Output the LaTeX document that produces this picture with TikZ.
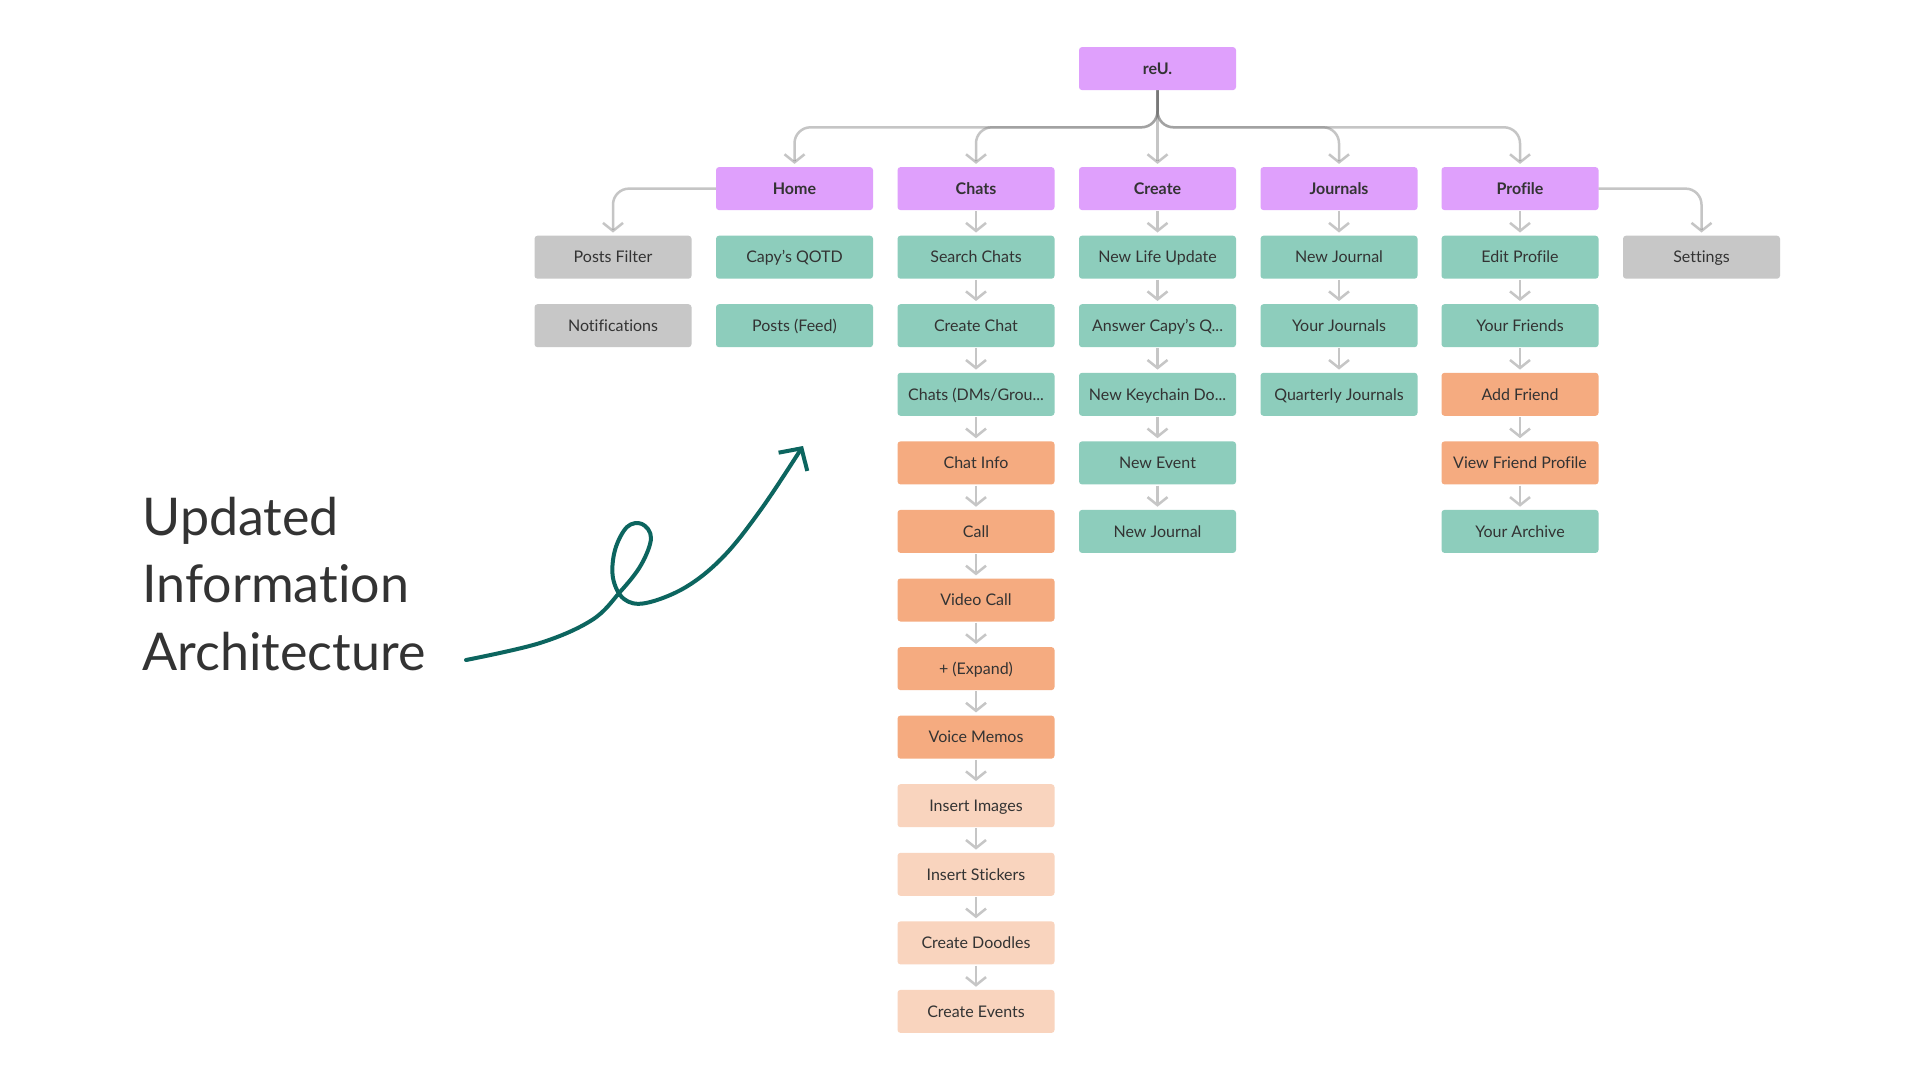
\documentclass[tikz,border=0pt]{standalone}
\usepackage{fontspec}
\setmainfont{Lato}[Ligatures=NoCommon]
\usepackage{tikz}
\usetikzlibrary{arrows.meta}

\definecolor{iaPurple}{HTML}{DFA0FC}
\definecolor{iaMint}{HTML}{8DCDBC}
\definecolor{iaOrange}{HTML}{F5AB80}
\definecolor{iaPeach}{HTML}{F9D4BE}
\definecolor{iaGrey}{HTML}{C7C7C7}
\definecolor{iaArrow}{HTML}{C6C6C6}
\definecolor{iaLine}{HTML}{6E6E6E}
\definecolor{iaText}{HTML}{333333}
\definecolor{iaGreen}{HTML}{0C655F}

\begin{document}
\begin{tikzpicture}[x=1pt, y=-1pt,
    box/.style={rounded corners=3pt, minimum width=157pt, minimum height=43pt,
        inner sep=0pt, text height=11.5pt, text depth=0pt, text=iaText,
        font=\fontsize{16}{19}\selectfont},
    head/.style={box, fill=iaPurple, font=\fontsize{16}{19}\selectfont\bfseries},
    mint/.style={box, fill=iaMint},
    orng/.style={box, fill=iaOrange},
    peach/.style={box, fill=iaPeach},
    grey/.style={box, fill=iaGrey},
    dn/.style={draw=iaArrow, line width=2.5pt, shorten <=1pt, shorten >=3pt,
        -{Straight Barb[length=8pt, width=20pt]}},
    topln/.style={draw=iaLine, draw opacity=0.4, line width=2.5pt, rounded corners=16pt,
        shorten >=3pt, -{Straight Barb[length=8pt, width=20pt]}},
    title/.style={anchor=base west, text=iaText, font=\fontsize{52}{67}\selectfont}]
    \useasboundingbox (0,0) rectangle (1920,1080);
    \fill[white] (0,0) rectangle (1920,1080);

    % root and sections
    \node[head] (reu) at (1157.5,68.6) {reU.};
    \node[head] (home) at (794.5,188.6) {Home};
    \node[head] (chats) at (976,188.6) {Chats};
    \node[head] (create) at (1157.5,188.6) {Create};
    \node[head] (jrnl) at (1339,188.6) {Journals};
    \node[head] (prof) at (1520,188.6) {Profile};

    % side boxes
    \node[grey] (pfilt) at (613,257.2) {Posts Filter};
    \node[grey] (notif) at (613,325.7) {Notifications};
    \node[grey] (sett) at (1701.5,257.2) {Settings};

    % home
    \node[mint] (qotd) at (794.5,257.2) {Capy’s QOTD};
    \node[mint] (feed) at (794.5,325.7) {Posts (Feed)};

    % chats
    \node[mint] (srch) at (976,257.2) {Search Chats};
    \node[mint] (mkchat) at (976,325.7) {Create Chat};
    \node[mint] (dms) at (976,394.3) {Chats (DMs/Grou...};
    \node[orng] (info) at (976,462.9) {Chat Info};
    \node[orng] (call) at (976,531.4) {Call};
    \node[orng] (video) at (976,600) {Video Call};
    \node[orng] (expand) at (976,668.6) {+ (Expand)};
    \node[orng] (voice) at (976,737.1) {Voice Memos};
    \node[peach] (images) at (976,805.7) {Insert Images};
    \node[peach] (stick) at (976,874.3) {Insert Stickers};
    \node[peach] (doodle) at (976,942.9) {Create Doodles};
    \node[peach] (events) at (976,1011.4) {Create Events};

    % create
    \node[mint] (life) at (1157.5,257.2) {New Life Update};
    \node[mint] (ansq) at (1157.5,325.7) {Answer Capy’s Q...};
    \node[mint] (keych) at (1157.5,394.3) {New Keychain Do...};
    \node[mint] (event) at (1157.5,462.9) {New Event};
    \node[mint] (newj) at (1157.5,531.4) {New Journal};

    % journals
    \node[mint] (jnew) at (1339,257.2) {New Journal};
    \node[mint] (jyours) at (1339,325.7) {Your Journals};
    \node[mint] (jqtr) at (1339,394.3) {Quarterly Journals};

    % profile
    \node[mint] (edit) at (1520,257.2) {Edit Profile};
    \node[mint] (friends) at (1520,325.7) {Your Friends};
    \node[orng] (addf) at (1520,394.3) {Add Friend};
    \node[orng] (viewf) at (1520,462.9) {View Friend Profile};
    \node[mint] (arch) at (1520,531.4) {Your Archive};

    % branches from the root
    \draw[topln] (reu.south) -- ++(0,37) -| (home.north);
    \draw[topln] (reu.south) -- ++(0,37) -| (chats.north);
    \draw[topln] (reu.south) -- (create.north);
    \draw[topln] (reu.south) -- ++(0,37) -| (jrnl.north);
    \draw[topln] (reu.south) -- ++(0,37) -| (prof.north);
    \draw[topln] (home.west) -| (pfilt.north);
    \draw[topln] (prof.east) -| (sett.north);

    % chains
    \foreach \a/\b in {chats/srch, srch/mkchat, mkchat/dms, dms/info, info/call,
        call/video, video/expand, expand/voice, voice/images, images/stick,
        stick/doodle, doodle/events,
        create/life, life/ansq, ansq/keych, keych/event, event/newj,
        jrnl/jnew, jnew/jyours, jyours/jqtr,
        prof/edit, edit/friends, friends/addf, addf/viewf, viewf/arch}
        \draw[dn] (\a) -- (\b);

    % title and swirl
    \node[title] (t1) at (139,535) {Updated};
    \node[title] (t2) at (139,602.5) {Information};
    \node[title] (t3) at (139,670) {Architecture};
    \coordinate (swStart) at (466,660);
    \coordinate (swTip) at (803,446);
    \draw[iaGreen, line width=4pt, line cap=round, line join=round,
        -{Straight Barb[length=16pt, width=34pt]}]
        plot[smooth, tension=0.6] coordinates {(swStart) (540,643) (592,620) (620,592)
        (641,565) (651,538) (642,524) (627,527) (615,550) (613,578) (624,599)
        (646,603) (686,587) (724,556) (762,508) (swTip)};
\end{tikzpicture}
\end{document}
